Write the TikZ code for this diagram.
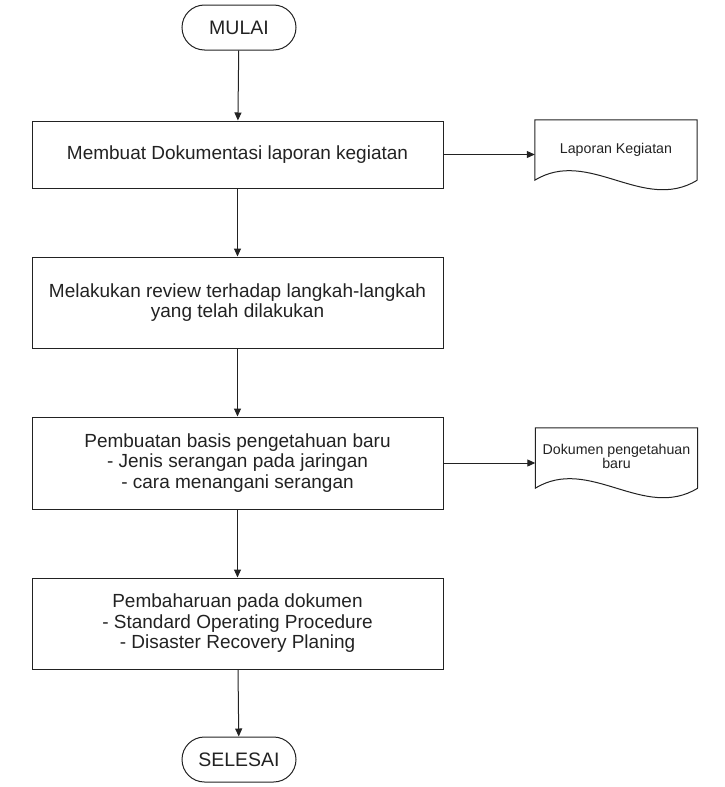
\documentclass[tikz,border=0pt]{standalone}
\usepackage{fontspec}
\setmainfont{Liberation Sans}
\usetikzlibrary{arrows.meta}
\definecolor{ink}{HTML}{222222}
\tikzset{
  every node/.style={text=ink},
  procbox/.style={draw=ink, line width=1pt, rectangle, minimum width=411pt, align=center,
    font=\fontsize{19}{20.5}\selectfont, inner sep=0pt},
  termbox/.style={draw=ink, line width=1pt, rectangle, rounded corners=22.5pt,
    minimum width=114pt, minimum height=45pt, font=\fontsize{19.5}{21}\selectfont, inner sep=0pt},
  docbox/.style={rectangle, minimum width=162pt, minimum height=60pt, align=center,
    font=\fontsize{14.2}{16}\selectfont, inner sep=0pt},
  docline/.style={draw=ink, line width=1pt},
  flow/.style={draw=ink, line width=1pt, -{Triangle[length=8pt,width=7pt]}}
}
\begin{document}
\begin{tikzpicture}[x=1pt, y=-1pt]
\useasboundingbox (0,0) rectangle (724,787);
\node[termbox] (start) at (239,27.5) {MULAI};
\node[procbox, minimum height=67pt] (b1) at (237.5,154.5) {Membuat Dokumentasi laporan kegiatan};
\node[procbox, minimum height=91pt] (b2) at (237.5,302.5) {Melakukan review terhadap langkah-langkah\\yang telah dilakukan};
\node[procbox, minimum height=92pt] (b3) at (237.5,463) {Pembuatan basis pengetahuan baru\\- Jenis serangan pada jaringan\\- cara menangani serangan};
\node[procbox, minimum height=91pt] (b4) at (237.5,623.5) {Pembaharuan pada dokumen\\- Standard Operating Procedure\\- Disaster Recovery Planing};
\node[termbox] (end) at (239,759.5) {SELESAI};

\node[docbox] (d1) at (616,150) {\raisebox{4pt}{Laporan Kegiatan}};
\node[docbox] (d2) at (616.5,458) {\raisebox{1pt}{\begin{tabular}{@{}c@{}}Dokumen pengetahuan\\[-2pt] baru\end{tabular}}};

\draw[docline] (d1.south east) -- (d1.north east) -- (d1.north west) -- (d1.south west)
  .. controls ([xshift=54pt,yshift=33pt]d1.south west) and ([xshift=-54pt,yshift=-33pt]d1.south east) .. (d1.south east);
\draw[docline] (d2.south east) -- (d2.north east) -- (d2.north west) -- (d2.south west)
  .. controls ([xshift=54pt,yshift=33pt]d2.south west) and ([xshift=-54pt,yshift=-33pt]d2.south east) .. (d2.south east);

\draw[flow] (start) -- (b1);
\draw[flow] (b1) -- (b2);
\draw[flow] (b2) -- (b3);
\draw[flow] (b3) -- (b4);
\draw[flow] (b4) -- (end);
\draw[flow] (b1.east) -- (b1.east -| d1.west);
\draw[flow] (b3.east) -- (b3.east -| d2.west);
\end{tikzpicture}
\end{document}
